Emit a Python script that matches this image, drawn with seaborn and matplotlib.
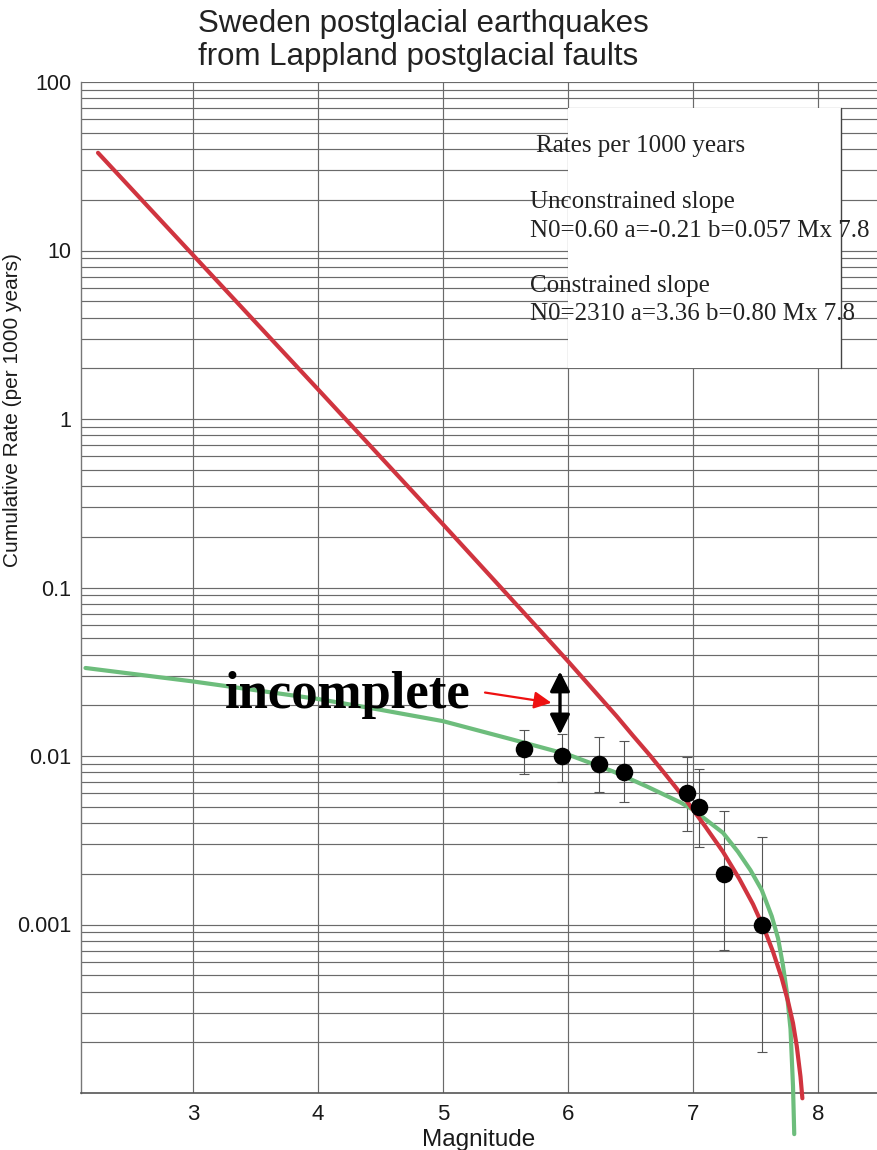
import numpy as np
import pandas as pd
import matplotlib
matplotlib.use("Agg")
import matplotlib.pyplot as plt
import seaborn as sns
from matplotlib.ticker import FixedLocator, FixedFormatter, LogLocator, NullFormatter
from matplotlib.patches import Rectangle
from matplotlib.lines import Line2D

# ---------------- data ----------------
title_lines = ["Sweden postglacial earthquakes", "from Lappland postglacial faults"]
x_label = "Magnitude"
y_label = "Cumulative Rate (per 1000 years)"
x_ticks = [3, 4, 5, 6, 7, 8]
y_ticks = [0.001, 0.01, 0.1, 1, 10, 100]
y_tick_labels = ["0.001", "0.01", "0.1", "1", "10", "100"]

obs_mag = [5.65, 5.95, 6.25, 6.45, 6.95, 7.05, 7.25, 7.55]
obs_rate = [0.011, 0.010, 0.009, 0.008, 0.006, 0.005, 0.002, 0.001]
obs_upper = [0.0143, 0.0135, 0.0130, 0.0122, 0.0098, 0.0084, 0.0047, 0.0033]
obs_lower = [0.0078, 0.0070, 0.0061, 0.0053, 0.0036, 0.0029, 0.00071, 0.000174]

constrained_mag = [2.24, 3.0, 4.0, 5.0, 5.5, 5.8, 6.0, 6.13, 6.26, 6.39, 6.52, 6.66,
                   6.79, 6.95, 7.1, 7.24, 7.37, 7.48, 7.57, 7.64, 7.71, 7.76, 7.80,
                   7.83, 7.86, 7.875]
constrained_rate = [38.0, 9.4, 1.50, 0.237, 0.0933, 0.0532, 0.0365, 0.0284, 0.0221, 0.0172,
                    0.0132, 0.0100, 0.0076, 0.0054, 0.0038, 0.0027, 0.00187, 0.00132,
                    0.00094, 0.00069, 0.00048, 0.00035, 0.00026, 0.00019, 0.000125,
                    0.000093]

unconstrained_mag = [2.14, 3.0, 4.0, 4.5, 5.0, 5.56, 6.0, 6.36, 6.63, 6.9, 7.0, 7.12,
                     7.24, 7.36, 7.46, 7.55, 7.63, 7.68, 7.72, 7.75, 7.78, 7.80, 7.81]
unconstrained_rate = [0.0333, 0.0277, 0.0218, 0.0188, 0.0161, 0.0125, 0.0102, 0.0081,
                      0.0066, 0.0053, 0.0048, 0.0041, 0.0035, 0.0027, 0.0021, 0.0016,
                      0.00112, 0.00083, 0.00057, 0.00040, 0.00024, 0.00011, 0.000057]

box_lines = ["Rates per 1000 years", "Unconstrained slope",
             "N0=0.60 a=-0.21 b=0.057 Mx 7.8", "Constrained slope",
             "N0=2310 a=3.36 b=0.80 Mx 7.8"]
note_text = "incomplete"
arrow_mag = 5.936
arrow_top, arrow_bottom = 0.0318, 0.0134
pointer_start = (5.336, 0.0238)
pointer_end = (5.867, 0.0207)
note_pos = (3.256, 0.01936)

# ---------------- style ----------------
sns.set_style("white")
plt.rcParams["font.family"] = ["Liberation Sans", "DejaVu Sans"]

W, H = 877, 1150
fig = plt.figure(figsize=(W / 100, H / 100), dpi=100)
ax = fig.add_axes([81 / W, (H - 1093) / H, (W - 81) / W, (1093 - 82) / H])

RED = "#d0343f"
GREEN = "#6dbd7c"
GRID = "#6a6a6a"

ax.set_yscale("log")
ax.set_xlim(2.104, 8.472)
ax.set_ylim(1e-4, 100)

# grid
ax.xaxis.set_major_locator(FixedLocator(x_ticks))
ax.yaxis.set_minor_locator(LogLocator(base=10, subs=np.arange(2, 10), numticks=20))
ax.yaxis.set_minor_formatter(NullFormatter())
ax.yaxis.set_major_locator(FixedLocator(y_ticks))
ax.yaxis.set_major_formatter(FixedFormatter(y_tick_labels))
ax.grid(True, which="major", axis="both", color=GRID, lw=0.85)
ax.grid(True, which="minor", axis="y", color=GRID, lw=0.85)
ax.tick_params(axis="both", which="both", length=0)
ax.tick_params(axis="y", labelsize=15.5, pad=7, labelcolor="#1a1a1a")
ax.tick_params(axis="x", labelsize=16, pad=8, labelcolor="#1a1a1a")
for s in ["top", "right"]:
    ax.spines[s].set_visible(False)
ax.spines["left"].set_color("#777777")
ax.spines["bottom"].set_color("#555555")
ax.spines["left"].set_linewidth(1.0)
ax.spines["bottom"].set_linewidth(1.2)
ax.set_axisbelow(True)

# curves
uc = pd.DataFrame({"mag": unconstrained_mag, "rate": unconstrained_rate})
cc = pd.DataFrame({"mag": constrained_mag, "rate": constrained_rate})
sns.lineplot(data=uc, x="mag", y="rate", ax=ax, color=GREEN, lw=3.0, sort=False,
             zorder=3, clip_on=False)
sns.lineplot(data=cc, x="mag", y="rate", ax=ax, color=RED, lw=3.0, sort=False,
             zorder=4, clip_on=False)

# observations
obs = pd.DataFrame({"mag": obs_mag, "rate": obs_rate})
yerr = np.array([np.array(obs_rate) - np.array(obs_lower),
                 np.array(obs_upper) - np.array(obs_rate)])
ax.errorbar(obs_mag, obs_rate, yerr=yerr, fmt="none", ecolor="#555555",
            elinewidth=0.8, capsize=3.6, capthick=0.8, zorder=2)
sns.scatterplot(data=obs, x="mag", y="rate", ax=ax, color="black", s=160,
                edgecolor="black", linewidth=0, zorder=5)

# text box
ax.add_patch(Rectangle((0.612, 0.7171), 0.9548 - 0.612, 0.9743 - 0.7171,
                       transform=ax.transAxes, facecolor="white", edgecolor="none",
                       zorder=1.5))
ax.add_line(Line2D([0.9548, 0.9548], [0.7171, 0.9743], transform=ax.transAxes,
                   color="#444444", lw=1.0, zorder=1.6))
box_x = [0.5716, 0.564, 0.564, 0.564, 0.564]
box_y = [0.9311, 0.8751, 0.8470, 0.7920, 0.7646]
for t, bx, by in zip(box_lines, box_x, box_y):
    ax.text(bx, by, t, transform=ax.transAxes, fontsize=18, va="baseline", ha="left",
            family=["Liberation Serif", "DejaVu Serif"], color="#222222", zorder=6,
            clip_on=False)

# annotation
ax.text(note_pos[0], note_pos[1], note_text, fontsize=38, fontweight="bold",
        family=["Liberation Serif", "DejaVu Serif"], color="black", ha="left",
        va="baseline", zorder=7)
ax.annotate("", xy=(arrow_mag, arrow_top), xytext=(arrow_mag, arrow_bottom),
            arrowprops=dict(arrowstyle="<|-|>", color="black", lw=2.4,
                            mutation_scale=30, shrinkA=0, shrinkB=0), zorder=7)
ax.annotate("", xy=pointer_end, xytext=pointer_start,
            arrowprops=dict(arrowstyle="-|>", color="#ee1111", lw=1.6,
                            mutation_scale=26, shrinkA=0, shrinkB=0), zorder=7)

# labels
ax.set_xlabel(x_label, fontsize=17.5, labelpad=3, color="#1a1a1a")
ax.set_ylabel(y_label, fontsize=15, color="#1a1a1a")
ax.yaxis.set_label_coords((22 - 81) / 796, (1093 - 410) / 1011)
fig.text(198 / W, 1 - 31.7 / H, title_lines[0], fontsize=22.5, va="baseline",
         ha="left", color="#222222")
fig.text(198 / W, 1 - 65 / H, title_lines[1], fontsize=22.5, va="baseline",
         ha="left", color="#222222")

fig.savefig("out.png", dpi=100)
